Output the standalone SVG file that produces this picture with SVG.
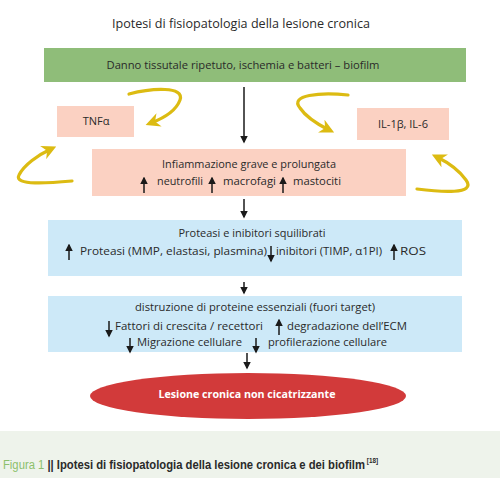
<svg xmlns="http://www.w3.org/2000/svg" width="500" height="478" viewBox="0 0 500 478">
<defs>
<style>
.t{font-family:"Open Sans","Noto Sans","Liberation Sans",sans-serif;fill:#2a2a2a;}
.c{text-anchor:middle;}
.y{fill:none;stroke:#dcbb12;stroke-width:3.2;stroke-linecap:round;}
.k{stroke:#1a1a1a;stroke-width:1.5;fill:none;}
.cap{font-family:"Liberation Sans Narrow","Liberation Sans",sans-serif;font-weight:bold;font-size:12.5px;fill:#2a2a2a;}
</style>
<marker id="ya" viewBox="0 0 10 10" refX="6" refY="5" markerWidth="4.5" markerHeight="4.5" markerUnits="strokeWidth" orient="auto"><path d="M0,0 L10,5 L0,10 L3,5 Z" fill="#dcbb12"/></marker>
<marker id="ka" viewBox="0 0 10 10" refX="8" refY="5" markerWidth="5" markerHeight="5" markerUnits="strokeWidth" orient="auto"><path d="M0,0 L10,5 L0,10 Z" fill="#1a1a1a"/></marker>
</defs>
<rect width="500" height="478" fill="#ffffff"/>
<rect x="0" y="431" width="500" height="47" fill="#eef3eb"/>

<text class="t c" x="241" y="28" font-size="12" textLength="258" lengthAdjust="spacingAndGlyphs">Ipotesi di fisiopatologia della lesione cronica</text>

<g id="danno">
<rect x="44" y="48" width="422" height="34" fill="#8fbd79"/>
<text class="t c" x="243" y="69" font-size="10.5" textLength="273" lengthAdjust="spacingAndGlyphs">Danno tissutale ripetuto, ischemia e batteri – biofilm</text>
</g>

<g id="tnf">
<rect x="57" y="106" width="77" height="31" fill="#fbd1c2"/>
<text class="t c" x="96" y="125" font-size="11">TNFα</text>
</g>

<g id="il">
<rect x="357" y="108" width="92" height="32" fill="#fbd1c2"/>
<text class="t c" x="403" y="128" font-size="11">IL-1β, IL-6</text>
</g>

<g id="infiammazione">
<rect x="92" y="149" width="314" height="47" fill="#fbd1c2"/>
<text class="t c" x="249" y="168" font-size="10.5" textLength="174" lengthAdjust="spacingAndGlyphs">Infiammazione grave e prolungata</text>
<line class="k" x1="144" y1="193" x2="144" y2="178" marker-end="url(#ka)"/>
<text class="t" x="157" y="185" font-size="10.5" textLength="46" lengthAdjust="spacingAndGlyphs">neutrofili</text>
<line class="k" x1="212" y1="193" x2="212" y2="178" marker-end="url(#ka)"/>
<text class="t" x="223" y="185" font-size="10.5" textLength="53" lengthAdjust="spacingAndGlyphs">macrofagi</text>
<line class="k" x1="283" y1="193" x2="283" y2="178" marker-end="url(#ka)"/>
<text class="t" x="293" y="185" font-size="10.5" textLength="48" lengthAdjust="spacingAndGlyphs">mastociti</text>
</g>

<g id="proteasi">
<rect x="48" y="220" width="414" height="56" fill="#cde9f8"/>
<text class="t c" x="252" y="237" font-size="10.5" textLength="147" lengthAdjust="spacingAndGlyphs">Proteasi e inibitori squilibrati</text>
<line class="k" x1="69" y1="260" x2="69" y2="245" marker-end="url(#ka)"/>
<text class="t" x="80" y="255" font-size="10.5" textLength="187" lengthAdjust="spacingAndGlyphs">Proteasi (MMP, elastasi, plasmina)</text>
<line class="k" x1="271" y1="246" x2="271" y2="261" marker-end="url(#ka)"/>
<text class="t" x="276" y="255" font-size="10.5" textLength="106" lengthAdjust="spacingAndGlyphs">inibitori (TIMP, α1PI)</text>
<line class="k" x1="394" y1="260" x2="394" y2="245" marker-end="url(#ka)"/>
<text class="t" x="400" y="255" font-size="10.5" textLength="26" lengthAdjust="spacingAndGlyphs">ROS</text>
</g>

<g id="distruzione">
<rect x="48" y="296" width="414" height="56" fill="#cde9f8"/>
<text class="t c" x="255" y="311" font-size="10.5" textLength="240" lengthAdjust="spacingAndGlyphs">distruzione di proteine essenziali (fuori target)</text>
<line class="k" x1="109" y1="321" x2="109" y2="336" marker-end="url(#ka)"/>
<text class="t" x="115" y="330" font-size="10.5" textLength="148" lengthAdjust="spacingAndGlyphs">Fattori di crescita / recettori</text>
<line class="k" x1="279" y1="335" x2="279" y2="320" marker-end="url(#ka)"/>
<text class="t" x="287" y="330" font-size="10.5" textLength="120" lengthAdjust="spacingAndGlyphs">degradazione dell’ECM</text>
<line class="k" x1="130" y1="338" x2="130" y2="352" marker-end="url(#ka)"/>
<text class="t" x="137" y="346" font-size="10.5" textLength="105" lengthAdjust="spacingAndGlyphs">Migrazione cellulare</text>
<line class="k" x1="256" y1="338" x2="256" y2="352" marker-end="url(#ka)"/>
<text class="t" x="268" y="346" font-size="10.5" textLength="119" lengthAdjust="spacingAndGlyphs">profilerazione cellulare</text>
</g>

<g id="lesione">
<ellipse cx="248" cy="396" rx="158" ry="23" fill="#d23a3a"/>
<text class="t c" x="247" y="398" font-size="10.5" font-weight="bold" style="fill:#ffffff" textLength="177" lengthAdjust="spacingAndGlyphs">Lesione cronica non cicatrizzante</text>
</g>

<g id="connectors">
<line class="k" x1="244" y1="87" x2="244" y2="142" marker-end="url(#ka)"/>
<line class="k" x1="244" y1="199" x2="244" y2="217" marker-end="url(#ka)"/>
<line class="k" x1="244" y1="282" x2="244" y2="293" marker-end="url(#ka)"/>
<line class="k" x1="247" y1="353" x2="247" y2="368" marker-end="url(#ka)"/>
<path class="y" d="M129,94 C152,88 185,86 180,100 C176,111 164,118 151,123" marker-end="url(#ya)"/>
<path class="y" d="M348,95 C320,92 289,95 300,108 C306,117 317,124 329,130" marker-end="url(#ya)"/>
<path class="y" d="M72,181 C50,183 13,186 19,175 C24,165 38,155 51,149" marker-end="url(#ya)"/>
<path class="y" d="M417,189 C440,192 477,195 466,180 C459,170 447,162 437,157" marker-end="url(#ya)"/>
</g>

<text class="cap" x="3" y="469" textLength="375" lengthAdjust="spacingAndGlyphs"><tspan font-weight="normal" style="fill:#8cc06c">Figura 1 </tspan><tspan>|| Ipotesi di fisiopatologia della lesione cronica e dei biofilm</tspan><tspan font-size="7" dx="2" dy="-6">[18]</tspan></text>
</svg>
